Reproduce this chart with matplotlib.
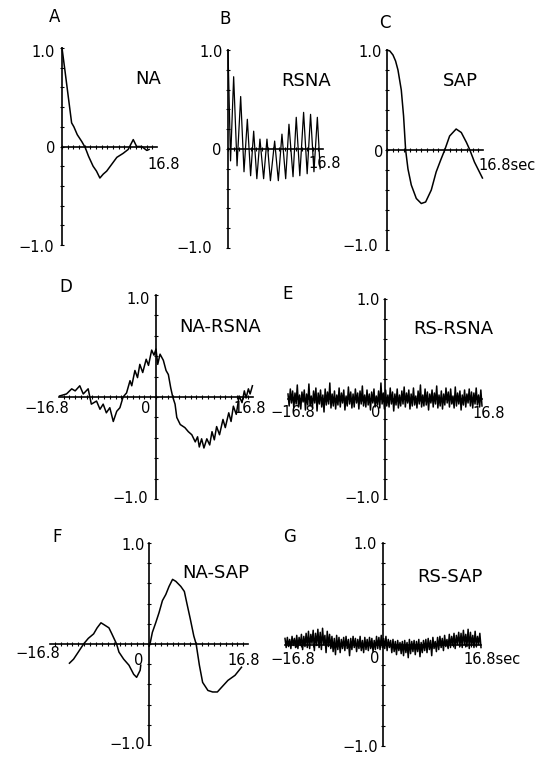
import numpy as np
import matplotlib
matplotlib.use("Agg")
import matplotlib.pyplot as plt

plt.rcParams['font.family'] = ['DejaVu Sans']

# ---------------- data ----------------
# A: NA autocorrelation
a_t = [0, 0.5, 1.1, 1.7, 2.1, 2.7, 3.5, 4.1, 4.7, 5.5, 6.1, 6.7, 7.3, 7.9, 8.8, 9.7,
       10.8, 11.7, 12.6, 13.2, 14.1, 15.0, 15.4]
a_v = [1.0, 0.78, 0.51, 0.24, 0.20, 0.12, 0.05, -0.01, -0.10, -0.20, -0.25, -0.32, -0.28,
       -0.25, -0.18, -0.11, -0.07, -0.03, 0.07, 0.0, 0.0, -0.04, -0.03]

# B: RSNA autocorrelation (peaks and troughs)
b_t = [0, 0.45, 1.0, 1.6, 2.24, 2.83, 3.42, 4.0, 4.54, 5.1, 5.65, 6.3, 6.89, 7.5, 8.25,
       8.9, 9.54, 10.2, 10.78, 11.5, 12.07, 12.7, 13.37, 14.0, 14.6, 15.2, 15.8, 16.3]
b_v = [1.0, -0.12, 0.73, -0.17, 0.53, -0.23, 0.30, -0.27, 0.18, -0.30, 0.10, -0.30, 0.10,
       -0.32, 0.08, -0.32, 0.15, -0.30, 0.25, -0.28, 0.32, -0.27, 0.37, -0.25, 0.35, -0.23,
       0.32, -0.20]

# C: SAP autocorrelation
c_t = [0, 0.5, 1.05, 1.5, 1.92, 2.5, 2.9, 3.26, 3.67, 4.25, 5.13, 6.0, 6.76, 7.75, 8.6,
       9.4, 10.1, 10.96, 12.1, 13.0, 13.9, 14.5, 15.3, 16.0, 16.7]
c_v = [1.0, 0.99, 0.95, 0.89, 0.80, 0.60, 0.34, 0.0, -0.19, -0.35, -0.485, -0.535, -0.52,
       -0.40, -0.22, -0.10, 0.0, 0.14, 0.21, 0.175, 0.076, 0.0, -0.12, -0.20, -0.28]

# D: NA-RSNA cross-correlation
d_t = [-16.7, -15.5, -14.6, -14.0, -13.2, -12.6, -11.75, -11.2, -10.3, -9.7, -9.15, -8.6,
       -8.0, -7.4, -6.8, -6.25, -5.7, -5.1, -4.5, -4.2, -3.65, -3.2, -2.8, -2.3, -1.7, -1.3,
       -0.75, -0.35, 0.0, 0.3, 0.7, 1.27, 1.74, 2.14, 2.55, 2.9, 3.3, 3.6, 4.2, 5.0, 5.6,
       6.2, 6.8, 7.2, 7.5, 7.9, 8.3, 8.8, 9.3, 9.7, 10.1, 10.5, 11.0, 11.6, 12.0, 12.6,
       13.0, 13.4, 13.9, 14.4, 14.9, 15.3, 15.6, 16.0, 16.3, 16.7]
d_v = [0.01, 0.03, 0.08, 0.06, 0.11, 0.03, 0.08, -0.07, -0.04, -0.12, -0.07, -0.155,
       -0.105, -0.24, -0.14, -0.105, 0.0, 0.04, 0.16, 0.11, 0.26, 0.19, 0.32, 0.24, 0.37,
       0.31, 0.46, 0.41, 0.47, 0.32, 0.42, 0.36, 0.26, 0.22, 0.09, 0.0, -0.07, -0.20, -0.27,
       -0.30, -0.34, -0.37, -0.44, -0.39, -0.49, -0.41, -0.50, -0.41, -0.47, -0.34, -0.42,
       -0.29, -0.37, -0.22, -0.30, -0.155, -0.24, -0.09, -0.17, 0.01, -0.055, 0.06, -0.01,
       0.08, 0.03, 0.11]

# E: RS-RSNA cross-correlation (hundredths)
e_v100 = [5, -7, 10, -4, 8, -9, 6, -5, 14, -8, 4, -10, 7, -3, 9, -11, 5, -6, 15, -7, 3, -9,
          8, -4, 11, -12, 6, -5, 9, -8, 4, -13, 10, -6, 7, -5, 16, -9, 5, -7, 8, -10, 4, -6,
          11, -8, 6, -4, 9, -11, 3, -7, 12, -5, 7, -9, 5, -8, 10, -4, 6, -10, 8, -5, 13, -7,
          4, -8, 9, -6, 5, -11, 7, -4, 10, -8, 3, -6, 8, -9, 16, -5, 6, -10, 9, -7, 4, -8,
          11, -5, 7, -12, 5, -6, 10, -9, 4, -7, 8, -5, 12, -8, 6, -4, 9, -10, 5, -7, 11, -6,
          3, -9, 8, -5, 14, -8, 4, -7, 10, -6, 7, -11, 5, -4, 9, -8, 6, -5, 13, -9, 4, -7, 8,
          -10, 5, -6, 11, -4, 7, -8, 10, -5, 3, -9, 12, -7, 6, -5, 8, -11, 4, -6, 9, -8, 5,
          -4, 10, -7, 7, -9, 6, -5, 11, -6, 4, -8, 9, -7]

# F: NA-SAP cross-correlation (negative lags, then positive lags)
f_neg_t = [-13.5, -12.8, -12.0, -11.1, -10.3, -9.4, -8.8, -8.15, -7.6, -6.8, -6.3, -5.5,
           -5.1, -4.3, -3.4, -2.6, -2.1, -1.5, -1.4]
f_neg_v = [-0.19, -0.15, -0.08, 0.0, 0.056, 0.10, 0.16, 0.21, 0.19, 0.16, 0.10, 0.0, -0.08,
           -0.15, -0.21, -0.30, -0.33, -0.26, -0.21]
f_pos_t = [0.0, 0.17, 0.57, 1.14, 1.7, 2.28, 2.85, 3.4, 4.0, 4.56, 5.4, 6.0, 6.4, 7.0, 7.6,
           8.0, 8.55, 9.1, 10.0, 10.8, 11.6, 12.3, 13.4, 14.6, 15.7]
f_pos_v = [-0.02, 0.0, 0.115, 0.21, 0.31, 0.43, 0.49, 0.57, 0.64, 0.62, 0.57, 0.52, 0.41,
           0.25, 0.08, 0.0, -0.21, -0.38, -0.46, -0.475, -0.475, -0.43, -0.36, -0.31, -0.23]

# G: RS-SAP cross-correlation (hundredths)
g_v100 = [6, -3, 7, -2, 5, -4, 8, -1, 6, -3,
          9, -4, 7, -1, 10, -5, 8, -2, 11, -3,
          13, -4, 10, 1, 14, -6, 11, -1, 15, -3,
          12, -5, 16, 0, 9, -8, 13, -2, 10, -4,
          8, -7, 6, -10, 9, -5, 7, -8, 5, -4,
          7, -6, 8, -4, 5, -11, 6, -5, 8, -3,
          6, -7, 5, -4, 8, -6, 4, -8, 7, -5,
          5, -6, 7, -4, 6, -7, 4, -5, 8, -4,
          7, -5, 9, -3, 6, -4, 8, -6, 5, -3,
          4, -8, 5, -7, 3, -10, 4, -6, 2, -9,
          3, -11, 4, -8, 2, -13, 5, -9, 3, -7,
          4, -10, 3, -7, 5, -12, 2, -8, 4, -6,
          5, -8, 6, -5, 4, -11, 7, -4, 3, -7,
          7, -5, 8, -3, 6, -6, 9, -2, 5, -4,
          10, -3, 8, -1, 11, -4, 9, 0, 12, -2,
          11, -3, 14, 0, 10, -2, 15, -4, 12, -1,
          9, -3, 13, -2, 8, 0, 11, -3]

LAG = 16.8

# ---------------- figure ----------------
W, H = 551, 758
fig = plt.figure(figsize=(W / 100, H / 100), dpi=100)


def make_ax(x0, x1, ytop, ybot, xmin, xmax):
    ax = fig.add_axes([x0 / W, 1 - ybot / H, (x1 - x0) / W, (ybot - ytop) / H])
    ax.set_xlim(xmin, xmax)
    ax.set_ylim(-1, 1)
    ax.patch.set_visible(False)
    for s in ['top', 'right']:
        ax.spines[s].set_visible(False)
    ax.spines['left'].set_position(('data', 0))
    ax.spines['bottom'].set_position(('data', 0))
    for s in ['left', 'bottom']:
        ax.spines[s].set_linewidth(1.2)
    ax.set_xticks(np.arange(np.ceil(xmin), np.floor(xmax) + 1, 1.0))
    ax.set_yticks(np.arange(-1, 1.001, 0.2))
    ax.tick_params(direction='inout', length=3.5, width=0.8,
                   labelleft=False, labelbottom=False)
    return ax


def T(x, y, s, size=10.5, ha='left'):
    fig.text(x / W, 1 - y / H, s, fontsize=size, ha=ha, va='baseline', color='black')


LW = 1.1

# A
ax = make_ax(62, 157, 48, 245, 0, LAG)
ax.plot(a_t, a_v, color='black', lw=LW, clip_on=False)
# B
ax = make_ax(228, 323, 50, 248, 0, LAG)
ax.plot(b_t, b_v, color='black', lw=0.9, clip_on=False)
# C
ax = make_ax(387, 483, 50, 250, 0, LAG)
ax.plot(c_t, c_v, color='black', lw=LW, clip_on=False)
# D
ax = make_ax(59, 253, 295, 499, -LAG, LAG)
ax.plot(d_t, d_v, color='black', lw=LW, clip_on=False)
# E
ax = make_ax(288, 482, 299, 499, -LAG, LAG)
e_t = np.linspace(-LAG, LAG, len(e_v100))
ax.plot(e_t, np.array(e_v100) / 100.0, color='black', lw=1.1, clip_on=False)
# F
ax = make_ax(50, 248, 543, 745, -LAG, LAG)
ax.plot(f_neg_t, f_neg_v, color='black', lw=LW, clip_on=False)
ax.plot(f_pos_t, f_pos_v, color='black', lw=LW, clip_on=False)
# G
ax = make_ax(285, 481, 543, 746, -LAG, LAG)
g_t = np.linspace(-LAG, LAG, len(g_v100))
ax.plot(g_t, np.array(g_v100) / 100.0, color='black', lw=1.1, clip_on=False)

# panel letters
for x, y, s in [(55, 22.5, 'A'), (225, 24.5, 'B'), (385, 28.5, 'C'), (66, 292.5, 'D'),
                (288, 299.5, 'E'), (57, 542.5, 'F'), (290, 541.5, 'G')]:
    T(x, y, s, size=12, ha='center')

# series names
for x, y, s in [(148, 84.5, 'NA'), (306, 86.5, 'RSNA'), (460, 85.5, 'SAP'),
                (220, 331.5, 'NA-RSNA'), (453, 333.5, 'RS-RSNA'),
                (216, 578.5, 'NA-SAP'), (450, 582.5, 'RS-SAP')]:
    T(x, y, s, size=13, ha='center')

# axis numbers
nums = [
    # A
    (55, 57, '1.0', 'right'), (51, 153, '0', 'center'), (54, 252, '\u22121.0', 'right'),
    (147, 169, '16.8', 'left'),
    # B
    (223, 57, '1.0', 'right'), (217, 155, '0', 'center'), (212, 253, '\u22121.0', 'right'),
    (308, 168, '16.8', 'left'),
    # C
    (382, 57, '1.0', 'right'), (379, 157, '0', 'center'), (378, 251, '\u22121.0', 'right'),
    (478, 170, '16.8sec', 'left'),
    # D
    (150, 304, '1.0', 'right'), (146, 413, '0', 'center'), (148, 503, '\u22121.0', 'right'),
    (24, 413, '\u221216.8', 'left'), (233, 413, '16.8', 'left'),
    # E
    (380, 305, '1.0', 'right'), (376, 417, '0', 'center'), (380, 503, '\u22121.0', 'right'),
    (270, 417, '\u221216.8', 'left'), (472, 418, '16.8', 'left'),
    # F
    (145, 550, '1.0', 'right'), (139, 665, '0', 'center'), (145, 749, '\u22121.0', 'right'),
    (15, 658, '\u221216.8', 'left'), (227, 665, '16.8', 'left'),
    # G
    (377, 549, '1.0', 'right'), (375, 663, '0', 'center'), (378, 752, '\u22121.0', 'right'),
    (270, 664, '\u221216.8', 'left'), (463, 664, '16.8sec', 'left'),
]
for x, y, s, ha in nums:
    T(x, y, s, size=10.5, ha=ha)

fig.savefig('out.png', dpi=100)
